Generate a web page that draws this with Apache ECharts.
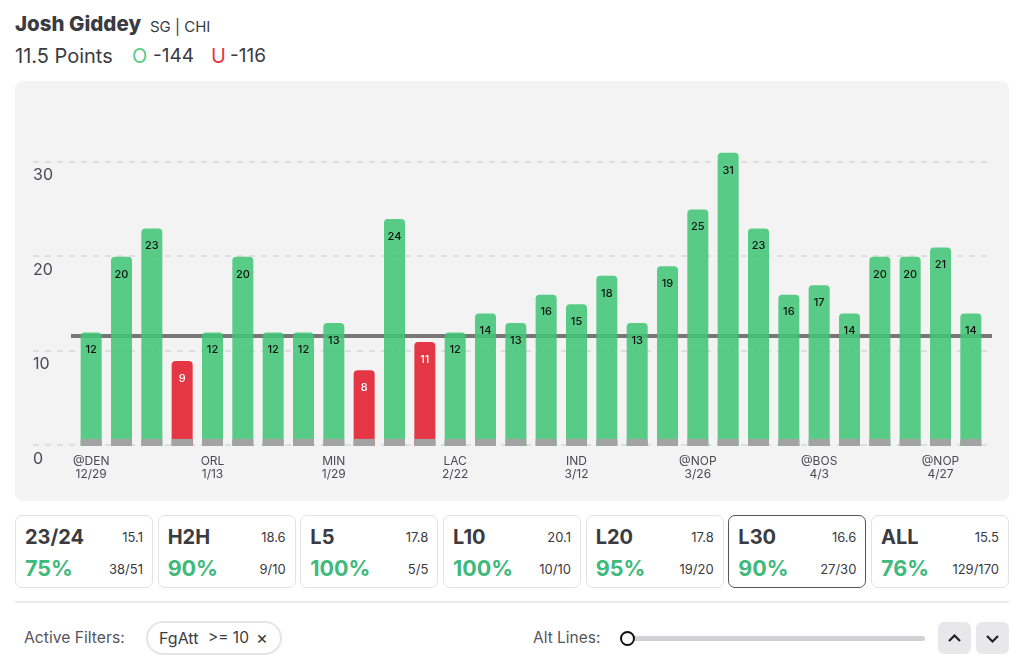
<!DOCTYPE html>
<html lang="en">
<head>
<meta charset="UTF-8">
<title>Josh Giddey points</title>
<script src="https://cdn.jsdelivr.net/npm/echarts@6/dist/echarts.min.js"></script>
<style>
    html, body { margin: 0; width: 1024px; height: 663px; overflow: hidden; background: #fff; }
    body { font-family: Inter, "Noto Sans", sans-serif; color: #3b3b42; position: relative; }
    .abs { position: absolute; white-space: nowrap; line-height: 1; }
    #main { position: absolute; left: 15px; top: 81px; width: 994px; height: 420px; background: #f3f3f3; border-radius: 8px; }
    .card { position: absolute; top: 515px; width: 136px; height: 71px; border: 1.5px solid #e3e3e5; border-radius: 7px; background: #fff; }
    .card.active { border-color: #55555c; }
    .card .abs { position: absolute; }
    .name { left: 9px; top: 11px; font-size: 20px; font-weight: 700; }
    .avg { right: 9px; top: 15px; font-size: 13px; }
    .pct { left: 9px; top: 42px; font-size: 21.5px; font-weight: 700; color: #3fb97c; }
    .hits { right: 9px; top: 47px; font-size: 13px; }
    .btn { position: absolute; top: 622px; width: 33px; height: 32px; background: #e8e8ea; border-radius: 6px; }
</style>
</head>
<body>
    <div class="abs" style="left:15px;top:14px;font-size:20.5px;font-weight:800;">Josh Giddey</div>
    <div class="abs" style="left:150px;top:19px;font-size:15px;">SG | CHI</div>
    <div class="abs" style="left:15px;top:46px;font-size:20px;">11.5 Points</div>
    <div class="abs" style="left:132px;top:46px;font-size:20px;color:#57ca87;">O</div>
    <div class="abs" style="left:153px;top:46px;font-size:19px;">-144</div>
    <div class="abs" style="left:211px;top:46px;font-size:20px;color:#e63946;">U</div>
    <div class="abs" style="left:230px;top:46px;font-size:19px;">-116</div>

    <div id="main"></div>
    <div id="cards"></div>

    <div class="abs" style="left:15px;top:601px;width:994px;height:2px;background:#e9e9e9;"></div>
    <div class="abs" style="left:24px;top:630px;font-size:15.7px;color:#55555c;">Active Filters:</div>
    <div class="abs" style="left:146px;top:621px;width:132px;height:30px;border:2px solid #e5e5e7;border-radius:17px;"></div>
    <div class="abs" style="left:159px;top:630px;font-size:16px;">FgAtt</div>
    <div class="abs" style="left:208px;top:630px;font-size:15.5px;">&gt;= 10</div>
    <div class="abs" style="left:256px;top:629px;font-size:18px;">×</div>
    <div class="abs" style="left:533px;top:630px;font-size:15.5px;color:#55555c;">Alt Lines:</div>
    <div class="abs" style="left:627px;top:636px;width:298px;height:5px;background:#d2d2d6;border-radius:3px;"></div>
    <div class="abs" style="left:620px;top:631px;width:11px;height:11px;background:#fff;border:2px solid #111;border-radius:50%;"></div>
    <div class="btn" style="left:938px;"><svg width="33" height="32"><path d="M11 19 L16.5 13.5 L22 19" fill="none" stroke="#222" stroke-width="2.2"/></svg></div>
    <div class="btn" style="left:976px;"><svg width="33" height="32"><path d="M11 14 L16.5 19.5 L22 14" fill="none" stroke="#222" stroke-width="2.2"/></svg></div>

<script>
var lineValue = 11.5;
var points = [12, 20, 23, 9, 12, 20, 12, 12, 13, 8, 24, 11, 12, 14, 13, 16, 15, 18, 13, 19, 25, 31, 23, 16, 17, 14, 20, 20, 21, 14];
var baseStub = [0.75, 0.75, 0.75, 0.75, 0.75, 0.75, 0.75, 0.75, 0.75, 0.75, 0.75, 0.75, 0.75, 0.75, 0.75, 0.75, 0.75, 0.75, 0.75, 0.75, 0.75, 0.75, 0.75, 0.75, 0.75, 0.75, 0.75, 0.75, 0.75, 0.75];
var opponents = ['@DEN', '', '', '', 'ORL', '', '', '', 'MIN', '', '', '', 'LAC', '', '', '', 'IND', '', '', '', '@NOP', '', '', '', '@BOS', '', '', '', '@NOP', ''];
var dates = ['12/29', '', '', '', '1/13', '', '', '', '1/29', '', '', '', '2/22', '', '', '', '3/12', '', '', '', '3/26', '', '', '', '4/3', '', '', '', '4/27', ''];
var gameIndex = points.map(function (v, i) { return 'g' + i; });

var cardNames = ['23/24', 'H2H', 'L5', 'L10', 'L20', 'L30', 'ALL'];
var cardAvgs = ['15.1', '18.6', '17.8', '20.1', '17.8', '16.6', '15.5'];
var cardPcts = ['75%', '90%', '100%', '100%', '95%', '90%', '76%'];
var cardHits = ['38/51', '9/10', '5/5', '10/10', '19/20', '27/30', '129/170'];
var activeCard = 'L30';

// 下方统计卡片
var cardsHtml = '';
cardNames.forEach(function (name, i) {
    cardsHtml += '<div class="card' + (name === activeCard ? ' active' : '') + '" style="left:' + (15 + i * 142.67) + 'px">' +
        '<div class="abs name">' + name + '</div><div class="abs avg">' + cardAvgs[i] + '</div>' +
        '<div class="abs pct">' + cardPcts[i] + '</div><div class="abs hits">' + cardHits[i] + '</div></div>';
});
document.getElementById('cards').innerHTML = cardsHtml;

var myChart = echarts.init(document.getElementById('main'), null, { renderer: 'canvas' });
var fontName = 'Inter, "Noto Sans", sans-serif';

myChart.setOption({
    animation: false,
    textStyle: { fontFamily: fontName },
    grid: [
        { left: 18, right: 17, top: 33, height: 331 },  // 网格线
        { left: 61, width: 910, top: 34, height: 331 }  // 柱子
    ],
    xAxis: [
        { type: 'category', gridIndex: 0, show: false, data: gameIndex },
        {
            type: 'category',
            gridIndex: 1,
            data: gameIndex,
            axisLine: { show: false },
            axisTick: { show: false },
            axisLabel: {
                interval: 0,
                margin: 9,
                fontSize: 12,
                lineHeight: 13,
                color: '#4a4a52',
                formatter: function (value, index) {
                    return opponents[index] ? opponents[index] + '\n' + dates[index] : '';
                }
            }
        }
    ],
    yAxis: [
        {
            type: 'value',
            gridIndex: 0,
            min: 0,
            max: 35,
            interval: 10,
            axisLine: { show: false },
            axisTick: { show: false },
            axisLabel: {
                inside: true,
                margin: 0,
                showMaxLabel: false,
                fontSize: 16,
                color: '#4a4a52',
                verticalAlign: 'top',
                verticalAlignMinLabel: 'top',
                padding: [6, 0, 0, 0]
            },
            splitLine: { showMaxLine: false, lineStyle: { color: '#dedede', width: 2, type: [6, 6] } }
        },
        { type: 'value', gridIndex: 1, min: 0, max: 35, interval: 10, show: false }
    ],
    series: [
        {
            name: 'line',
            type: 'line',
            xAxisIndex: 0,
            yAxisIndex: 0,
            z: 1,
            data: [],
            markLine: {
                silent: true,
                z: 1,
                symbol: 'none',
                label: { show: false },
                lineStyle: { color: '#777777', width: 4, type: 'solid' },
                data: [[{ x: 71 - 15, yAxis: lineValue }, { x: 992 - 15, yAxis: lineValue }]]
            }
        },
        {
            name: 'points',
            type: 'bar',
            xAxisIndex: 1,
            yAxisIndex: 1,
            z: 2,
            barWidth: 21,
            barGap: '-100%',
            data: points.map(function (v) {
                var over = v > lineValue;
                return {
                    value: v,
                    itemStyle: { color: over ? 'rgba(66,197,120,0.88)' : '#e43645', borderRadius: [4, 4, 0, 0] },
                    label: { color: over ? '#111' : '#fff' }
                };
            }),
            label: { show: true, position: 'insideTop', distance: 12, fontSize: 11, fontWeight: 500 }
        },
        {
            name: 'base',
            type: 'bar',
            xAxisIndex: 1,
            yAxisIndex: 1,
            z: 3,
            barWidth: 21,
            barGap: '-100%',
            itemStyle: { color: '#a3a3a3' },
            data: baseStub
        }
    ]
});
</script>
</body>
</html>
